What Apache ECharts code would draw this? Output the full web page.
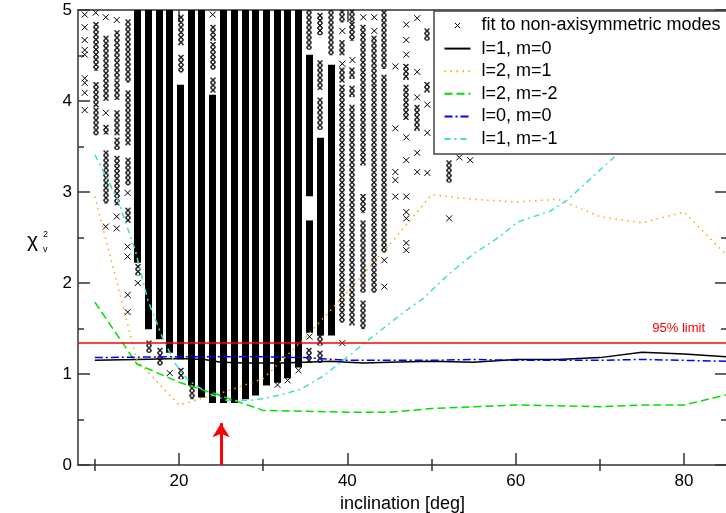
<!DOCTYPE html>
<html><head><meta charset="utf-8">
<script src="https://cdn.jsdelivr.net/npm/echarts@6/dist/echarts.min.js"></script>
<style>html,body{margin:0;padding:0;background:#fff}#c{width:726px;height:513px}</style>
</head><body><div id="c"></div>
<script>
// ---- data ----
// x positions of the columns of fitted points (deg)
const colX = [8.8, 10.1, 11.3, 12.6, 13.9, 15.1, 16.4, 17.7, 18.9, 20.2, 21.5, 22.7, 24.0, 25.3, 26.6, 27.9, 29.1, 30.4, 31.7, 32.9, 34.2, 35.5, 36.8, 38.1, 39.4, 40.6, 41.9, 43.2, 44.4, 45.7, 47.0, 48.3, 49.5, 52.1];
// per column: stacked runs of points [low, high, dense]
const colSegs = [
  [],
  [[4.36,4.84,0],[3.96,4.18,0],[3.65,3.9,0]],
  [[4.03,4.69,0],[3.66,3.71,0],[2.9,3.43,0]],
  [[4.26,4.75,0],[4.04,4.2,0],[3.65,3.87,0],[3.49,3.57,0],[2.88,3.37,0]],
  [[4.23,4.87,0],[3.54,4.09,0],[3.1,3.35,0],[2.69,2.8,0]],
  [[2.25,5,1],[2.11,2.18,0]],
  [[1.52,5,1],[1.26,1.34,0]],
  [[1.41,5,1],[1.12,1.26,0]],
  [[1.26,5,1]],
  [[1.19,4.15,1],[4.34,4.48,0],[4.64,4.92,0],[0.97,1.04,0]],
  [[0.9,5,1],[0.75,0.9,0]],
  [[0.77,5,1]],
  [[0.71,4.04,1],[4.12,4.23,0],[4.37,4.62,0],[4.69,4.81,0]],
  [[0.71,5,1]],
  [[0.71,5,1]],
  [[0.75,5,1]],
  [[0.79,5,1]],
  [[0.9,5,1]],
  [[0.93,5,1]],
  [[0.98,5,1]],
  [[1.1,5,1]],
  [[4.59,5,0],[2.98,4.48,1],[1.48,2.66,1],[1.15,1.26,0]],
  [[4.75,4.94,0],[4.15,4.42,0],[3.71,4.01,0],[1.45,3.57,1],[1.34,1.41,0],[1.15,1.23,0]],
  [[4.53,5,0],[1.45,4.37,1]],
  [[4.89,4.98,0],[4.53,4.64,0],[4.23,4.34,0],[1.59,4.15,0]],
  [[4.89,4.98,0],[4.69,4.84,0],[4.27,4.34,0],[4.07,4.14,0],[1.56,3.93,0]],
  [[3.32,4.81,0],[2.8,2.95,0],[1.92,2.66,0],[1.52,1.78,0]],
  [[4.2,4.69,0],[1.92,4.15,0]],
  [[4.38,4.97,0],[2.36,4.26,0]],
  [],
  [[4.26,4.38,0],[3.82,4.15,0]],
  [[3.7,3.93,0]],
  [[4.69,4.77,0],[4.12,4.18,0]],
  [[3.13,3.32,0]]
];
// isolated fitted points [inclination, chi2]
const singles = [
  [8.8,4.95],[8.8,4.81],[8.8,4.67],[8.8,4.56],[8.8,4.51],[8.8,4.25],[8.8,4.2],[8.8,4.09],[8.8,3.9],
  [10.1,4.97],[11.3,4.92],[11.3,3.87],[11.3,2.62],[12.6,4.89],[12.6,2.73],[12.6,2.6],
  [13.9,2.99],[13.9,2.4],[13.9,2.29],[13.9,1.87],[13.9,1.68],[15.1,2.0],[18.9,1.01],
  [24.0,4.95],[31.7,0.88],[32.9,0.93],[34.2,1.04],[35.5,1.41],
  [39.4,4.77],[39.4,4.41],[39.4,1.34],[40.6,4.45],[41.9,4.92],[43.2,4.92],[43.2,4.77],
  [44.4,2.25],[44.4,1.96],[45.7,4.38],[45.7,3.7],[45.7,3.22],[45.7,3.13],[45.7,2.95],
  [47.0,4.84],[47.0,4.67],[47.0,4.51],[47.0,3.6],[47.0,3.35],[47.0,2.95],[47.0,2.78],[47.0,2.71],[47.0,2.44],[47.0,2.36],
  [48.3,4.91],[48.3,4.32],[48.3,4.04],[48.3,3.43],[48.3,3.22],
  [49.5,3.96],[49.5,3.65],[49.5,3.21],[52.1,2.71],[53.3,3.38],[54.6,3.35]
];
const l1m0   = [[10,1.15],[15,1.16],[20,1.17],[23,1.16],[25,1.13],[28,1.12],[32,1.12],[35,1.13],[38,1.14],[40,1.13],[42,1.12],[45,1.13],[50,1.14],[55,1.13],[60,1.16],[65,1.16],[70,1.18],[75,1.24],[80,1.22],[85,1.19]];
const l2m1   = [[10,2.95],[15,1.15],[20,0.66],[25,0.79],[30,0.95],[35,1.4],[40,1.9],[45,2.42],[50,2.97],[55,2.92],[60,2.89],[65,2.92],[70,2.73],[75,2.66],[80,2.78],[85,2.31]];
const l2mm2  = [[10,1.79],[15,1.11],[20,0.91],[25,0.76],[30,0.6],[35,0.59],[40,0.58],[45,0.58],[50,0.62],[55,0.64],[60,0.66],[65,0.65],[70,0.64],[75,0.66],[80,0.66],[85,0.77]];
const l0m0   = [[10,1.18],[20,1.19],[30,1.19],[35,1.18],[40,1.15],[45,1.15],[50,1.15],[55,1.16],[60,1.15],[65,1.15],[70,1.15],[75,1.16],[80,1.15],[85,1.14]];
const l1mm1  = [[10,3.41],[12.75,2.91],[14.8,2.36],[16.3,1.81],[18,1.41],[19.5,1.12],[21.1,0.93],[23.4,0.79],[25.7,0.71],[28.4,0.71],[30,0.73],[32,0.77],[34.4,0.83],[37,0.97],[39.5,1.15],[43,1.41],[46.3,1.65],[49,1.83],[52.2,2.11],[55,2.32],[58.1,2.51],[60.2,2.67],[64.1,2.79],[66.1,2.91],[72,3.41],[75,3.8],[80,4.4],[85,5.0]];
const limit95 = 1.34;
const bestIncl = [25, 0.46];
const xMajor = [20, 40, 60, 80];
const xMinor = [10, 30, 50, 70];
const seriesNames = ['fit to non-axisymmetric modes','l=1, m=0','l=2, m=1','l=2, m=-2','l=0, m=0','l=1, m=-1'];

// ---- chart ----
const FONT = 'Liberation Sans, Arial, Helvetica, sans-serif';
const segData = [];
colX.forEach((x, i) => colSegs[i].forEach(s => segData.push([x, s[0], s[1], s[2]])));

const xPat = (function () {
  const c = document.createElement('canvas'); c.width = 6; c.height = 5;
  const g = c.getContext('2d'); g.strokeStyle = '#000'; g.lineWidth = 1.2;
  g.beginPath(); g.moveTo(0.5, 0); g.lineTo(5.5, 5); g.moveTo(5.5, 0); g.lineTo(0.5, 5); g.stroke();
  return c;
})();
const CROSS = 'path://M0,0L10,10M10,0L0,10';
const CROSS_LEG = 'path://M0,0M26,14M10.5,4.5L15.5,9.5M15.5,4.5L10.5,9.5';
const HIDE = { color: 'rgba(0,0,0,0)', borderColor: 'rgba(0,0,0,0)', borderWidth: 0 };

const axLine = { show: true, onZero: false, lineStyle: { color: '#333', width: 1.5 } };
function xAx(pos, ticks, len, labels, grid, line) {
  return {
    type: 'value', gridIndex: grid, position: pos, min: 8, max: 85.1,
    axisLine: line ? axLine : { show: false },
    axisTick: { show: true, inside: true, length: len, customValues: ticks, lineStyle: { color: '#333', width: 1.5 } },
    axisLabel: labels ? { show: true, customValues: ticks, fontSize: 17, color: '#000', margin: 8, fontFamily: FONT } : { show: false },
    splitLine: { show: false }
  };
}
function yAx(pos, labels, grid, show) {
  return {
    type: 'value', gridIndex: grid, position: pos, min: 0, max: 5, interval: 1, show: show,
    axisLine: axLine,
    axisTick: { show: true, inside: true, length: 12, lineStyle: { color: '#333', width: 1.5 } },
    minorTick: { show: true, splitNumber: 2, length: 6, lineStyle: { color: '#333', width: 1.5 } },
    axisLabel: labels ? { show: true, fontSize: 17, color: '#000', margin: 6, fontFamily: FONT } : { show: false },
    splitLine: { show: false }
  };
}
const xa0 = xAx('bottom', xMajor, 12, true, 0, true);
xa0.name = 'inclination [deg]'; xa0.nameLocation = 'middle'; xa0.nameGap = 19;
xa0.nameTextStyle = { fontSize: 18, color: '#000', fontFamily: FONT };

const chart = echarts.init(document.getElementById('c'), null, { renderer: 'canvas' });
chart.setOption({
  animation: false,
  backgroundColor: '#fff',
  textStyle: { fontFamily: FONT },
  grid: [
    { left: 78, top: 10, width: 649, height: 455, containLabel: false, outerBoundsMode: 'none' },
    { left: 78, top: 10, width: 649, height: 455, containLabel: false, outerBoundsMode: 'none' }
  ],
  xAxis: [
    xa0,
    xAx('top', xMajor, 12, false, 0, true),
    xAx('bottom', xMinor, 6, false, 1, false),
    xAx('top', xMinor, 6, false, 1, false)
  ],
  yAxis: [
    yAx('left', true, 0, true),
    yAx('right', false, 0, true),
    yAx('left', false, 1, false),
    yAx('right', false, 1, false)
  ],
  graphic: [
    { type: 'text', left: 27, top: 231, style: { text: 'χ', font: '21px ' + FONT, fill: '#000' } },
    { type: 'text', left: 43, top: 230, style: { text: '2', font: '9px ' + FONT, fill: '#000' } },
    { type: 'text', left: 43, top: 245, style: { text: 'v', font: '9px ' + FONT, fill: '#000' } }
  ],
  legend: {
    orient: 'vertical', left: 434, top: 11,
    padding: [5, 40, 6, 8], itemGap: 4.6, itemWidth: 26, itemHeight: 14,
    backgroundColor: '#fff', borderColor: '#444', borderWidth: 1.5, borderRadius: 0,
    selectedMode: false,
    textStyle: { fontSize: 18, color: '#000', fontFamily: FONT, padding: [0, 0, 0, 6] },
    data: [
      { name: seriesNames[0], icon: CROSS_LEG, itemStyle: { color: 'none', borderColor: '#000', borderWidth: 1 } },
      { name: seriesNames[1], itemStyle: HIDE },
      { name: seriesNames[2], itemStyle: HIDE },
      { name: seriesNames[3], itemStyle: HIDE },
      { name: seriesNames[4], itemStyle: HIDE },
      { name: seriesNames[5], itemStyle: HIDE }
    ]
  },
  series: [
    {
      type: 'custom', name: 'columns', xAxisIndex: 0, yAxisIndex: 0, clip: true, z: 1,
      data: segData, encode: { x: 0, y: [1, 2] },
      renderItem: function (params, api) {
        const x = api.value(0), lo = api.value(1), hi = api.value(2), dense = api.value(3);
        const pt = api.coord([x, hi]), pb = api.coord([x, lo]);
        const w = dense ? 7 : 6;
        return {
          type: 'rect', x: Math.round(pt[0] - w / 2), y: pt[1] - 2.5,
          shape: { x: 0, y: 0, width: w, height: pb[1] - pt[1] + 5 },
          style: { fill: dense ? '#000' : { image: xPat, repeat: 'repeat' } }
        };
      }
    },
    {
      type: 'scatter', name: seriesNames[0], data: singles, symbol: CROSS, symbolSize: 6, z: 2, clip: true,
      itemStyle: { color: 'none', borderColor: '#000', borderWidth: 1, opacity: 1 }
    },
    { type: 'line', name: seriesNames[1], data: l1m0, symbol: 'none', z: 3, lineStyle: { color: '#000', width: 1.5, type: 'solid' }, itemStyle: { color: '#000' } },
    { type: 'line', name: seriesNames[2], data: l2m1, symbol: 'none', z: 3, lineStyle: { color: '#ffa500', width: 1.5, type: [1.5, 4.5] }, itemStyle: { color: '#ffa500' } },
    { type: 'line', name: seriesNames[3], data: l2mm2, symbol: 'none', z: 3, lineStyle: { color: '#00e000', width: 1.5, type: [8, 4] }, itemStyle: { color: '#00e000' } },
    { type: 'line', name: seriesNames[4], data: l0m0, symbol: 'none', z: 3, lineStyle: { color: '#0000ff', width: 1.5, type: [8, 3, 2, 3] }, itemStyle: { color: '#0000ff' } },
    { type: 'line', name: seriesNames[5], data: l1mm1, symbol: 'none', z: 3, lineStyle: { color: '#40e0d0', width: 1.5, type: [6, 4, 2, 4] }, itemStyle: { color: '#40e0d0' } },
    {
      type: 'line', name: 'marks', data: [], z: 4, silent: true,
      markLine: {
        silent: true, animation: false, symbol: ['none', 'none'],
        data: [
          {
            yAxis: limit95,
            lineStyle: { color: '#ff0000', width: 1.5, type: 'solid' },
            label: { show: true, position: 'insideEndTop', formatter: '95% limit', color: '#ff0000', fontSize: 13, fontFamily: FONT, distance: [22, 8] }
          },
          [
            { coord: [bestIncl[0], 0], symbol: 'none', lineStyle: { color: '#ff0000', width: 3, type: 'solid' }, label: { show: false } },
            { coord: [bestIncl[0], bestIncl[1]], symbol: 'arrow', symbolSize: [13, 14] }
          ]
        ]
      }
    }
  ]
});
</script>
</body></html>
